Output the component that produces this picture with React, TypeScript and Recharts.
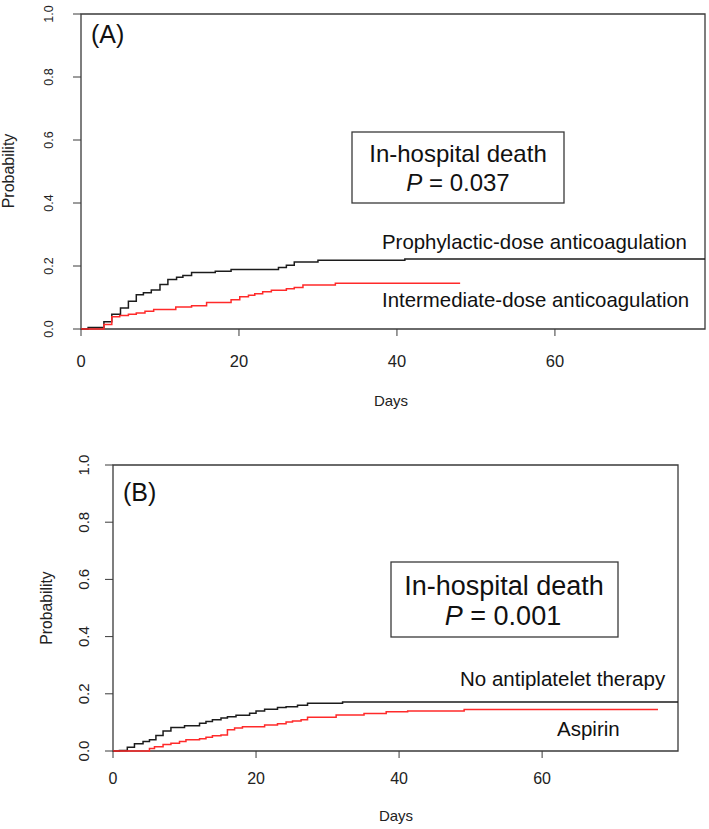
import React from "react";
import {
  LineChart,
  Line,
  XAxis,
  YAxis,
  ReferenceArea,
} from "recharts";

// Panel A: in-hospital death by anticoagulation dose
const prophylacticDays = [0, 0.9, 2.9, 3.9, 5.0, 6.0, 7.0, 7.9, 8.9, 10.0, 11.0, 12.1, 12.9, 14.0, 17.0, 19.0, 25.0, 26.0, 27.0, 30.0, 41.0, 79];
const prophylacticProb = [0, 0.005, 0.023, 0.047, 0.067, 0.088, 0.109, 0.115, 0.124, 0.141, 0.157, 0.164, 0.17, 0.179, 0.183, 0.189, 0.195, 0.202, 0.213, 0.218, 0.222, 0.222];

const intermediateDays = [0, 2.9, 3.9, 4.9, 6.0, 7.0, 8.1, 9.2, 12.0, 14.0, 15.9, 19.0, 20.1, 21.2, 22.0, 23.0, 24.1, 26.0, 27.0, 28.1, 32.2, 48];
const intermediateProb = [0, 0.014, 0.039, 0.043, 0.047, 0.051, 0.056, 0.062, 0.07, 0.074, 0.084, 0.093, 0.102, 0.107, 0.112, 0.118, 0.123, 0.128, 0.132, 0.14, 0.145, 0.145];

// Panel B: in-hospital death by antiplatelet therapy
const noAntiplateletDays = [0, 0.9, 2, 3, 4.2, 5.1, 6, 7, 8.1, 10, 12.1, 13, 13.9, 15.1, 16, 17.2, 19.1, 20, 21.2, 23, 24.2, 25.8, 27.2, 32.1, 79];
const noAntiplateletProb = [0, 0.002, 0.013, 0.025, 0.033, 0.039, 0.054, 0.07, 0.082, 0.088, 0.097, 0.103, 0.109, 0.115, 0.12, 0.125, 0.132, 0.14, 0.146, 0.152, 0.155, 0.16, 0.167, 0.171, 0.171];

const aspirinDays = [0, 5.1, 5.8, 7, 8.1, 9.3, 10.2, 12.1, 13, 13.9, 15.1, 16, 17, 18.1, 21.2, 23, 24.2, 25.1, 26.3, 27.2, 31.2, 35.1, 38.2, 41.2, 49.1, 76.2];
const aspirinProb = [0, 0.009, 0.015, 0.023, 0.027, 0.033, 0.039, 0.043, 0.048, 0.053, 0.056, 0.074, 0.08, 0.085, 0.091, 0.095, 0.101, 0.105, 0.109, 0.118, 0.126, 0.131, 0.137, 0.14, 0.145, 0.145];

const xTicks = [0, 20, 40, 60];
const yTicks = [0, 0.2, 0.4, 0.6, 0.8, 1.0];
const xMax = 79;

const FONT = "'Liberation Sans', Arial, Helvetica, sans-serif";
const AXIS = "#3a3a3a";
const BLACK = "#1c1c1c";
const RED = "#ff2a2a";

const toPoints = (days: number[], prob: number[]) =>
  days.map((d, i) => ({ day: d, p: prob[i] }));

function RotTick({ x, y, payload, fontSize }: any) {
  return (
    <text
      x={x}
      y={y}
      transform={`rotate(-90 ${x} ${y})`}
      textAnchor="middle"
      fontSize={fontSize}
      fontFamily={FONT}
      fill="#222"
    >
      {Number(payload.value).toFixed(1)}
    </text>
  );
}

function PanelA() {
  return (
    <LineChart
      width={709}
      height={420}
      margin={{ top: 14, right: 4, left: 0, bottom: 51 }}
    >
      <ReferenceArea x1={0} x2={xMax} y1={0} y2={1} fill="none" stroke={AXIS} strokeWidth={1.3} ifOverflow="visible" />
      <XAxis
        dataKey="day"
        type="number"
        domain={[0, xMax]}
        ticks={xTicks}
        allowDataOverflow
        height={40}
        axisLine={false}
        tickSize={7}
        tickMargin={19}
        tickLine={{ stroke: AXIS }}
        tick={{ fontSize: 16.5, fontFamily: FONT, fill: "#222" }}
      />
      <YAxis
        type="number"
        domain={[0, 1]}
        ticks={yTicks}
        width={81}
        axisLine={false}
        tickSize={8}
        tickMargin={20}
        tickLine={{ stroke: AXIS }}
        tick={<RotTick fontSize={12.5} />}
      />
      <Line data={toPoints(prophylacticDays, prophylacticProb)} dataKey="p" type="stepAfter" stroke={BLACK} strokeWidth={1.5} dot={false} isAnimationActive={false} />
      <Line data={toPoints(intermediateDays, intermediateProb)} dataKey="p" type="stepAfter" stroke={RED} strokeWidth={1.5} dot={false} isAnimationActive={false} />
      <text x={91} y={42.5} fontSize={25} fontFamily={FONT} fill="#111">(A)</text>
      <rect x={352} y={132} width={212} height={71} fill="#fff" stroke={AXIS} strokeWidth={1.3} />
      <text x={458} y={161.7} textAnchor="middle" fontSize={24} fontFamily={FONT} fill="#111">In-hospital death</text>
      <text x={458} y={191} textAnchor="middle" fontSize={24} fontFamily={FONT} fill="#111">
        <tspan fontStyle="italic">P</tspan> = 0.037
      </text>
      <text x={382} y={249} fontSize={20.4} fontFamily={FONT} fill="#111">Prophylactic-dose anticoagulation</text>
      <text x={382} y={307.3} fontSize={20.4} fontFamily={FONT} fill="#111">Intermediate-dose anticoagulation</text>
      <text x={14} y={171} transform="rotate(-90 14 171)" textAnchor="middle" fontSize={16} fontFamily={FONT} fill="#222">Probability</text>
      <text x={391} y={406} textAnchor="middle" fontSize={15} fontFamily={FONT} fill="#222">Days</text>
    </LineChart>
  );
}

function PanelB() {
  return (
    <LineChart
      width={709}
      height={409}
      margin={{ top: 45, right: 31, left: 0, bottom: 38 }}
    >
      <ReferenceArea x1={0} x2={xMax} y1={0} y2={1} fill="none" stroke={AXIS} strokeWidth={1.3} ifOverflow="visible" />
      <XAxis
        dataKey="day"
        type="number"
        domain={[0, xMax]}
        ticks={xTicks}
        allowDataOverflow
        height={40}
        axisLine={false}
        tickSize={7}
        tickMargin={15}
        tickLine={{ stroke: AXIS }}
        tick={{ fontSize: 16, fontFamily: FONT, fill: "#222" }}
      />
      <YAxis
        type="number"
        domain={[0, 1]}
        ticks={yTicks}
        width={113}
        axisLine={false}
        tickSize={8}
        tickMargin={16}
        tickLine={{ stroke: AXIS }}
        tick={<RotTick fontSize={15} />}
      />
      <Line data={toPoints(noAntiplateletDays, noAntiplateletProb)} dataKey="p" type="stepAfter" stroke={BLACK} strokeWidth={1.5} dot={false} isAnimationActive={false} />
      <Line data={toPoints(aspirinDays, aspirinProb)} dataKey="p" type="stepAfter" stroke={RED} strokeWidth={1.5} dot={false} isAnimationActive={false} />
      <text x={123} y={80.5} fontSize={25} fontFamily={FONT} fill="#111">(B)</text>
      <rect x={391} y={142} width={227} height={75} fill="#fff" stroke={AXIS} strokeWidth={1.3} />
      <text x={504} y={175} textAnchor="middle" fontSize={27} fontFamily={FONT} fill="#111">In-hospital death</text>
      <text x={503} y={205} textAnchor="middle" fontSize={27} fontFamily={FONT} fill="#111">
        <tspan fontStyle="italic">P</tspan> = 0.001
      </text>
      <text x={460} y={265.7} fontSize={20.5} fontFamily={FONT} fill="#111">No antiplatelet therapy</text>
      <text x={557} y={315.7} fontSize={20.5} fontFamily={FONT} fill="#111">Aspirin</text>
      <text x={51.5} y={188} transform="rotate(-90 51.5 188)" textAnchor="middle" fontSize={15.7} fontFamily={FONT} fill="#222">Probability</text>
      <text x={396} y={401} textAnchor="middle" fontSize={15} fontFamily={FONT} fill="#222">Days</text>
    </LineChart>
  );
}

export default function App() {
  return (
    <div style={{ position: "absolute", left: 0, top: 0, width: 709, height: 829, background: "#fff" }}>
      <div style={{ position: "absolute", left: 0, top: 0 }}>
        <PanelA />
      </div>
      <div style={{ position: "absolute", left: 0, top: 420 }}>
        <PanelB />
      </div>
    </div>
  );
}
